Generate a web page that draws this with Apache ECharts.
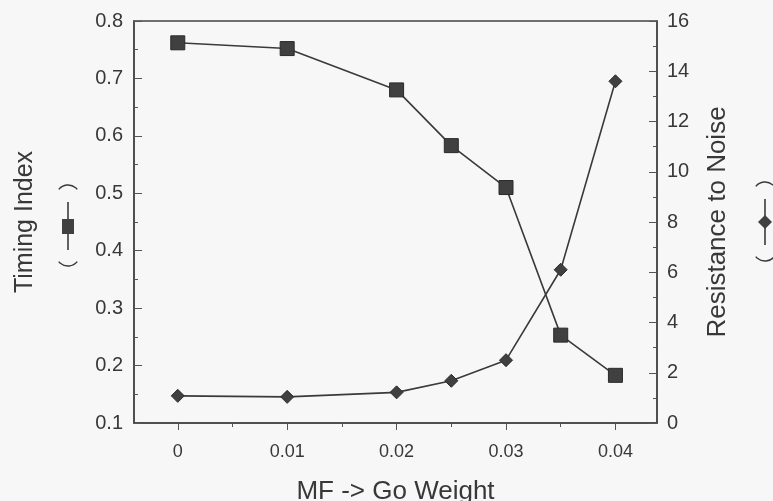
<!DOCTYPE html>
<html>
<head>
<meta charset="utf-8">
<title>Timing Index / Resistance to Noise</title>
<script src="https://cdn.jsdelivr.net/npm/echarts@6/dist/echarts.min.js"></script>
<style>
  html, body { margin: 0; padding: 0; background: #f7f7f7; }
  #chart { width: 773px; height: 501px; }
</style>
</head>
<body>
<div id="chart"></div>
<script>
// MF -> Go weight values (x)
const goWeight = [0, 0.01, 0.02, 0.025, 0.03, 0.035, 0.04]
// left axis series (squares)
const timingIndex = [0.762, 0.752, 0.680, 0.583, 0.510, 0.253, 0.183]
// right axis series (diamonds)
const resistance = [1.08, 1.04, 1.22, 1.68, 2.5, 6.1, 13.6]

const xMajorTicks = [0, 0.01, 0.02, 0.03, 0.04]
const xMinorTicks = [0.005, 0.015, 0.025, 0.035]

const FONT = "'Liberation Sans', Arial, sans-serif"
const INK = '#383838'

const chart = echarts.init(document.getElementById('chart'))

function pairs(xs, ys) {
  return xs.map((x, i) => [x, ys[i]])
}

// rotated "( -marker- )" key drawn beside an axis name
function keyGlyph(cx, top, bottom, marker) {
  const arcStyle = { stroke: INK, lineWidth: 1.4, fill: null }
  return [
    { type: 'arc', shape: { cx: cx, cy: top + 9, r: 12, startAngle: -Math.PI * 0.78, endAngle: -Math.PI * 0.22 }, style: arcStyle },
    { type: 'arc', shape: { cx: cx, cy: bottom - 9, r: 12, startAngle: Math.PI * 0.22, endAngle: Math.PI * 0.78 }, style: arcStyle },
    { type: 'line', shape: { x1: cx, y1: top + 14, x2: cx, y2: bottom - 13 }, style: { stroke: '#3a3a3a', lineWidth: 1.6 } },
    marker
  ]
}

chart.setOption({
  backgroundColor: '#f7f7f7',
  textStyle: { fontFamily: FONT, color: INK },
  grid: {
    left: 134, right: 116, top: 21, bottom: 78,
    outerBoundsMode: 'none',
    containLabel: false,
    show: true, borderColor: '#444', borderWidth: 1.5
  },
  xAxis: [
    {
      type: 'value',
      min: -0.004,
      max: 0.0438,
      name: 'MF -> Go Weight',
      nameLocation: 'middle',
      nameGap: 56,
      nameTextStyle: { fontSize: 26, color: INK, fontFamily: FONT },
      splitLine: { show: false },
      axisLine: { onZero: false, lineStyle: { color: '#444', width: 1.5 } },
      axisTick: { length: 7, customValues: xMajorTicks, lineStyle: { color: '#555' } },
      axisLabel: {
        customValues: xMajorTicks,
        margin: 20,
        fontSize: 18,
        color: INK,
        fontFamily: FONT
      }
    },
    {
      type: 'value',
      position: 'bottom',
      min: -0.004,
      max: 0.0438,
      splitLine: { show: false },
      axisLine: { show: false, onZero: false },
      axisTick: { length: 4, customValues: xMinorTicks, lineStyle: { color: '#555' } },
      axisLabel: { show: false }
    }
  ],
  yAxis: [
    {
      type: 'value',
      position: 'left',
      min: 0.1,
      max: 0.8,
      interval: 0.1,
      name: 'Timing Index',
      nameLocation: 'middle',
      nameRotate: 90,
      nameGap: 96,
      nameTextStyle: { fontSize: 25, color: INK, fontFamily: FONT },
      splitLine: { show: false },
      axisLine: { show: true, onZero: false, lineStyle: { color: '#444', width: 1.5 } },
      axisTick: { inside: true, length: 8, lineStyle: { color: '#555' } },
      minorTick: { show: true, splitNumber: 2, length: 4, lineStyle: { color: '#555' } },
      axisLabel: {
        margin: 11,
        fontSize: 20,
        color: INK,
        fontFamily: FONT,
        formatter: v => v.toFixed(1)
      }
    },
    {
      type: 'value',
      position: 'right',
      min: 0,
      max: 16,
      interval: 2,
      name: 'Resistance to Noise',
      nameLocation: 'middle',
      nameRotate: 90,
      nameGap: 48,
      nameTextStyle: { fontSize: 26, color: INK, fontFamily: FONT },
      splitLine: { show: false },
      axisLine: { show: true, onZero: false, lineStyle: { color: '#444', width: 1.5 } },
      axisTick: { inside: true, length: 8, lineStyle: { color: '#555' } },
      minorTick: { show: true, splitNumber: 2, length: 4, lineStyle: { color: '#555' } },
      axisLabel: { margin: 10, fontSize: 20, color: INK, fontFamily: FONT }
    }
  ],
  series: [
    {
      name: 'Timing Index',
      type: 'line',
      xAxisIndex: 0,
      yAxisIndex: 0,
      data: pairs(goWeight, timingIndex),
      symbol: 'rect',
      symbolSize: 14,
      lineStyle: { color: '#3a3a3a', width: 1.6 },
      itemStyle: { color: '#404040', borderColor: '#2a2a2a', borderWidth: 1 },
      z: 3
    },
    {
      name: 'Resistance to Noise',
      type: 'line',
      xAxisIndex: 0,
      yAxisIndex: 1,
      data: pairs(goWeight, resistance),
      symbol: 'diamond',
      symbolSize: 13,
      lineStyle: { color: '#3a3a3a', width: 1.6 },
      itemStyle: { color: '#404040', borderColor: '#2a2a2a', borderWidth: 1 },
      z: 3
    }
  ],
  graphic: [].concat(
    keyGlyph(68, 188, 263,
      { type: 'rect', shape: { x: 62, y: 219, width: 12, height: 15 }, style: { fill: '#404040' } }),
    keyGlyph(765, 185, 258,
      { type: 'polygon', shape: { points: [[765, 215], [772, 222], [765, 229], [758, 222]] }, style: { fill: '#404040' } })
  )
})
</script>
</body>
</html>
